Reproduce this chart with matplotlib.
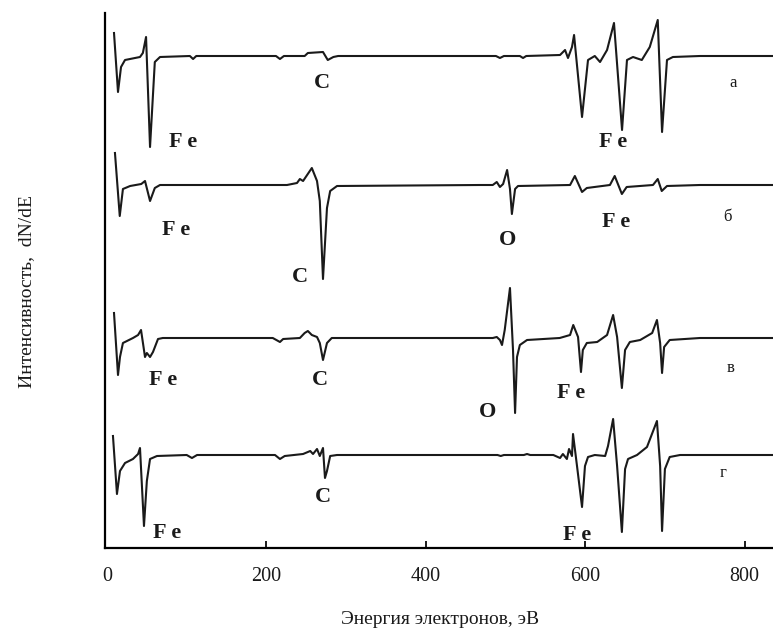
import matplotlib
matplotlib.use("Agg")
import matplotlib.pyplot as plt

plt.rcParams['font.family'] = ['Liberation Serif', 'DejaVu Serif']

# --- data: energy (eV) / dN/dE (arbitrary units) ---

energy_a = [8.8, 13.8, 17.6, 22.6, 41.4, 45, 49, 54, 60, 66.5,
            104, 108, 112, 212, 217, 222, 248, 252, 271, 277,
            284, 290, 488, 493, 498, 518, 522, 526,
            568.4, 574.7, 578.4, 583.4, 586, 596, 603.5, 612, 618.6, 627.4,
            636.1, 646.2, 652.4, 660, 671, 681, 691, 696.4, 702.6, 710,
            744, 840]
signal_a = [23, -36, -11, -4, -1, 3, 19, -91, -6, -1,
            0, -3, 0, 0, -3, 0, 0, 3, 4, -4,
            -1, 0, 0, -2, 0, 0, -2, 0,
            1, 6, -2, 9, 21, -61, -4, 0, -6, 6,
            33, -74, -4, -1, -4, 9, 36, -76, -4, -1,
            0, 0]

energy_b = [10, 16, 20, 29, 43, 47.7, 54, 60, 66.5,
            225.8, 238.4, 242, 246, 257, 263.5, 267, 271, 276, 280, 288.6,
            468, 484, 489, 493, 497, 502, 505.6, 508, 512, 515.7,
            581, 587, 596, 602, 631, 637, 646, 652,
            685, 691, 696, 702.6, 744, 840]
signal_b = [32, -31, -4, -1, 1, 4, -16, -3, 0,
            0, 2, 6, 4, 17, 4, -16, -94, -23, -6, -1,
            0, 0, 3, -2, 1, 15, -4, -29, -4, -1,
            0, 9, -7, -3, 0, 9, -9, -2,
            0, 6, -6, -1, 0, 0]

energy_c = [8.8, 13.8, 16.3, 20, 32.6, 39, 42.7, 47.7, 50, 54,
            57.7, 64, 70,
            208, 217, 221, 242, 248, 252, 257, 263.5, 267, 271, 276, 282,
            468, 484, 489, 493, 495.6, 499, 505.6, 509.4, 512, 514.4, 518, 527,
            568, 581, 585, 591, 594.7, 597, 602, 615, 627.4, 635, 640, 646,
            650, 656, 669,
            684, 690, 694, 696.4, 699, 706, 744, 840]
signal_c = [25, -37, -19, -5, 0, 3, 8, -19, -15, -19,
            -14, -1, 0,
            0, -4, -1, 0, 5, 7, 3, 1, -5, -22, -5, 0,
            0, 0, 1, -2, -7, 8, 50, -12, -75, -19, -7, -2,
            0, 3, 13, 1, -34, -12, -5, -4, 3, 23, 1, -50,
            -12, -4, -2,
            5, 18, -5, -35, -9, -2, 0, 0]

energy_d = [7.5, 12.5, 16.3, 22.6, 32.6, 39, 41.4, 46.4, 50, 54,
            62.7, 100, 106.6, 113,
            210.8, 217, 223, 246, 255, 258.5, 263.5, 267, 271, 273.5,
            276, 280, 288.6,
            490, 494, 498, 523, 527, 531,
            560, 568.4, 572, 577, 579.7, 583.4, 584.7, 589.7, 596, 599.7, 603.5,
            612, 625, 628.6, 635, 640, 646, 650, 653.7,
            665, 677.5, 690, 694, 696.4, 700, 706, 719, 744, 840]
signal_d = [19, -39, -16, -8, -4, 1, 7, -71, -26, -4,
            -1, 0, -3, 0,
            0, -4, -1, 1, 4, 1, 6, -1, 7, -23,
            -16, -1, 0,
            0, -1, 0, 0, 1, 0,
            0, -3, 1, -4, 6, -1, 21, -11, -52, -11, -2,
            0, -1, 9, 36, -11, -77, -14, -4,
            0, 8, 34, -11, -76, -14, -2, 0, 0, 0]

spectra = [(energy_a, signal_a), (energy_b, signal_b),
           (energy_c, signal_c), (energy_d, signal_d)]
panel_names = ['а', 'б', 'в', 'г']
offsets = [492, 363, 210, 93]

# element labels: (text, energy, height)
peak_labels = [
    ('F e', 95, 406), ('C', 270, 465), ('F e', 635, 406),
    ('F e', 87, 318), ('C', 242, 271), ('O', 503, 308), ('F e', 639, 326),
    ('F e', 70, 168), ('C', 267, 168), ('O', 478, 136), ('F e', 582, 155),
    ('F e', 75, 15), ('C', 271, 51), ('F e', 590, 13),
]
name_pos = [(785, 465), (778, 331), (782, 180), (773, 75)]

xticks = [0, 200, 400, 600, 800]

# --------------------------------------------------------------------------- #

fig = plt.figure(figsize=(7.73, 6.35), dpi=100)
ax = fig.add_axes([105 / 773, 87 / 635, 668 / 773, 535 / 635])

for (en, sig), off in zip(spectra, offsets):
    ax.plot(en, [s + off for s in sig], color='#1a1a1a', lw=1.5,
            solid_joinstyle='round')

for txt, en, h in peak_labels:
    ax.text(en, h, txt, ha='center', va='center', fontsize=16,
            fontweight='bold', color='#1a1a1a')

for name, (en, h) in zip(panel_names, name_pos):
    ax.text(en, h, name, ha='center', va='center', fontsize=12,
            color='#1a1a1a')

ax.set_xlim(-2.5, 835.6)
ax.set_ylim(0, 535)
ax.spines['top'].set_visible(False)
ax.spines['right'].set_visible(False)
ax.spines['left'].set_linewidth(1.6)
ax.spines['bottom'].set_linewidth(1.6)
ax.set_yticks([])
ax.set_xticks(xticks)
ax.set_xticklabels([str(t) for t in xticks])
ax.tick_params(axis='x', direction='in', length=5, width=1.4,
               labelsize=14.5, pad=14, colors='#1a1a1a')
# no tick mark at the origin, only its label
ax.xaxis.get_major_ticks()[0].tick1line.set_visible(False)

fig.text(440 / 773, 1 - 620 / 635, 'Энергия электронов, эВ',
         ha='center', va='center', fontsize=14, color='#1a1a1a')
fig.text(27 / 773, 1 - 292 / 635, 'Интенсивность,  dN/dE',
         ha='center', va='center', rotation=90, fontsize=14, color='#1a1a1a')

fig.savefig('out.png', dpi=100)
